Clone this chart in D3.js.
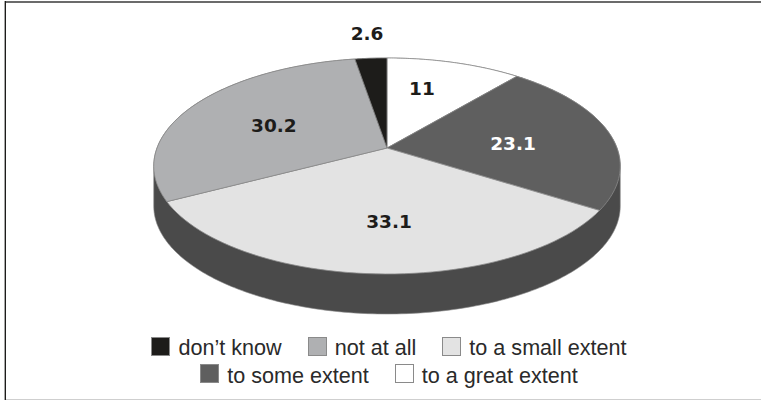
<!DOCTYPE html>
<html>
<head>
<meta charset="utf-8">
<style>
html,body{margin:0;padding:0;background:#fff}
svg{display:block}
</style>
<script src="https://cdn.jsdelivr.net/npm/d3@7"></script>
</head>
<body>
<svg id="chart" width="761" height="401"></svg>
<script>
const categories = ["to a great extent", "to some extent", "to a small extent", "not at all", "don\u2019t know"];
const values = [11, 23.1, 33.1, 30.2, 2.6];
const valueLabels = ["11", "23.1", "33.1", "30.2", "2.6"];
const sliceColours = ["#ffffff", "#5f5f5f", "#e3e3e3", "#afb0b2", "#1d1c1a"];
const labelColours = ["#1d1c1a", "#ffffff", "#1d1c1a", "#1d1c1a", "#1d1c1a"];
const legendRows = [
  ["don\u2019t know", "not at all", "to a small extent"],
  ["to some extent", "to a great extent"]
];

const svg = d3.select("#chart");

// Frame around the figure
svg.append("line").attr("x1", 5).attr("x2", 761).attr("y1", 2).attr("y2", 2).attr("stroke", "#6b6b6b").attr("stroke-width", 2);
svg.append("line").attr("x1", 4.5).attr("x2", 4.5).attr("y1", 1).attr("y2", 400).attr("stroke", "#a8a8a8");
svg.append("line").attr("x1", 5.5).attr("x2", 5.5).attr("y1", 1).attr("y2", 400).attr("stroke", "#1d1c1a");
svg.append("line").attr("x1", 6).attr("x2", 761).attr("y1", 399.5).attr("y2", 399.5).attr("stroke", "#cfcfcf");

// Tilted disc: a unit circle seen in perspective, hub at (hubX, hubY)
const hubX = 387, hubY = 148, scaleX = 230, scaleY = 105, persp = 1 / 6, depth = 40;
const toScreen = (u, v) => {
  const w = 1 - persp * v;
  return [hubX + scaleX * u / w, hubY + scaleY * v / w];
};
const project = a => toScreen(Math.sin(a), -Math.cos(a));
const arcPoints = (a0, a1) => d3.range(0, 61).map(i => project(a0 + (a1 - a0) * i / 60));
const line = d3.line();

const slices = d3.pie().sort(null).value(d => d)(values);

// Side wall: outline of the rim swept straight down by the disc's thickness
const rim = d3.range(0, 360).map(i => project(i * Math.PI / 180));
const wall = d3.polygonHull(rim.concat(rim.map(([x, y]) => [x, y + depth])));
svg.append("path")
  .attr("d", line(wall) + "Z")
  .attr("fill", "#4a4a4a").attr("stroke", "#8a8a8a").attr("stroke-width", 0.6);

// Top face
svg.selectAll("path.slice").data(slices).join("path")
  .attr("class", "slice")
  .attr("d", d => line([[hubX, hubY], ...arcPoints(d.startAngle, d.endAngle)]) + "Z")
  .attr("fill", (d, i) => sliceColours[i])
  .attr("stroke", "#8a8a8a").attr("stroke-width", 0.8).attr("stroke-linejoin", "round");

// Value labels, anchored in disc coordinates
const labelAnchors = [[0.168, -0.626], [0.552, -0.043], [0.008, 0.627], [-0.51, -0.222], [-0.106, -1.333]];
svg.selectAll("text.value").data(slices).join("text")
  .attr("class", "value")
  .attr("x", (d, i) => toScreen(...labelAnchors[i])[0])
  .attr("y", (d, i) => toScreen(...labelAnchors[i])[1] + 6.5)
  .attr("text-anchor", "middle")
  .attr("font-family", "'DejaVu Sans', sans-serif")
  .attr("font-weight", 700)
  .attr("font-size", 18.5)
  .attr("fill", (d, i) => labelColours[i])
  .text((d, i) => valueLabels[i]);

// Legend, two centred rows
const rowTop = [337, 364.5];
const swatch = 18, labelGap = 9, itemGap = 26;
const legendSize = 21.6;
const measure = document.createElement("canvas").getContext("2d");
measure.font = legendSize + "px 'Liberation Sans', Arial, sans-serif";
legendRows.forEach((row, r) => {
  const widths = row.map(t => measure.measureText(t).width);
  const total = d3.sum(widths) + row.length * (swatch + labelGap) + (row.length - 1) * itemGap;
  let x = 389 - total / 2;
  row.forEach((name, i) => {
    svg.append("rect")
      .attr("x", Math.round(x) + 0.5).attr("y", Math.floor(rowTop[r]) + 0.5)
      .attr("width", swatch).attr("height", swatch)
      .attr("fill", sliceColours[categories.indexOf(name)])
      .attr("stroke", "#8a8a8a");
    svg.append("text")
      .attr("x", x + swatch + labelGap).attr("y", rowTop[r] + 18)
      .attr("font-family", "'Liberation Sans', Arial, sans-serif")
      .attr("font-size", legendSize).attr("fill", "#2a2a2a")
      .text(name);
    x += swatch + labelGap + widths[i] + itemGap;
  });
});
</script>
</body>
</html>
